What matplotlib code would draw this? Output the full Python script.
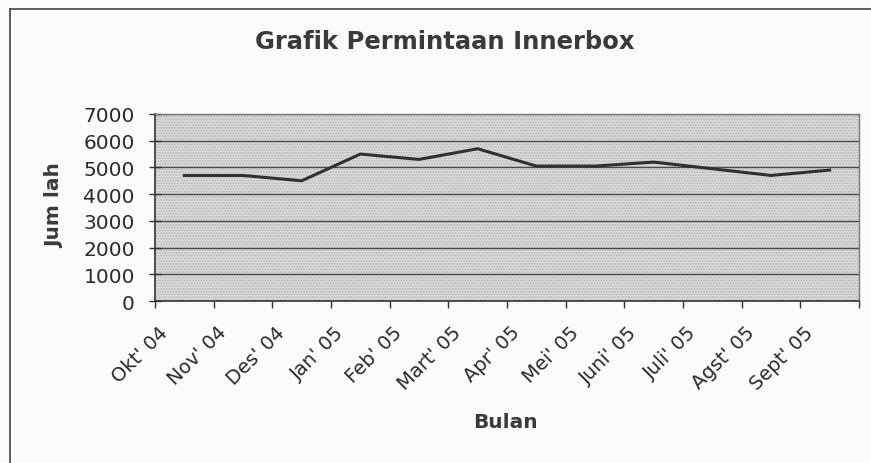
import matplotlib
matplotlib.use("Agg")
import matplotlib.pyplot as plt
from matplotlib.lines import Line2D
from matplotlib.patches import Rectangle
import matplotlib.transforms as mtransforms
import numpy as np

months = ["Okt' 04", "Nov' 04", "Des' 04", "Jan' 05", "Feb' 05", "Mart' 05",
          "Apr' 05", "Mei' 05", "Juni' 05", "Juli' 05", "Agst' 05", "Sept' 05"]
demand = [4700, 4700, 4500, 5500, 5300, 5700, 5050, 5050, 5200, 4950, 4700, 4900]
yticks = [0, 1000, 2000, 3000, 4000, 5000, 6000, 7000]

title = "Grafik Permintaan Innerbox"
xlabel = "Bulan"
ylabel = "Jum lah"

W, H = 871, 464
fig = plt.figure(figsize=(W / 100, H / 100), dpi=100)
fig.patch.set_facecolor("#fbfbfb")
txt = "#2b2b2b"

L, R, T, B = 155, 859, 115, 302
ax = fig.add_axes([L / W, 1 - B / H, (R - L) / W, (B - T) / H])
ax.set_facecolor("#dadada")
plt.rcParams['hatch.linewidth'] = 0.8
bg = Rectangle((0, 0), 1, 1, transform=ax.transAxes, facecolor="none",
               edgecolor="#b4b4b4", hatch="......", linewidth=0, zorder=0)
ax.add_patch(bg)

x = np.arange(len(months))
ax.set_xlim(-0.5, len(months) - 0.5)
ax.set_ylim(0, 7000)
for v in yticks[1:]:
    ax.axhline(v, color="#4a4a4a", linewidth=1.0, zorder=1)
ax.plot(x, demand, color="#303030", linewidth=2.2, zorder=3)

ax.set_yticks(yticks)
ax.set_yticklabels([str(v) for v in yticks], fontsize=14.5, color=txt, family="DejaVu Sans")
ax.tick_params(axis="y", direction="inout", length=8, width=1, color="#333333", pad=10.5)

ax.set_xticks(np.arange(-0.5, len(months), 1.0))
ax.set_xticklabels([])
ax.tick_params(axis="x", which="major", direction="out", length=5, width=1, color="#333333")
ax.set_xticks(x, minor=True)
ax.set_xticklabels(months, minor=True, rotation=45, ha="right", va="top",
                   rotation_mode="anchor", fontsize=14, color=txt, family="DejaVu Sans")
ax.tick_params(axis="x", which="minor", length=0, pad=6)
offset = mtransforms.ScaledTranslation(-26 / 100, -13 / 100, fig.dpi_scale_trans)
for lab in ax.get_xticklabels(minor=True):
    lab.set_transform(lab.get_transform() + offset)

for s in ["left", "bottom"]:
    ax.spines[s].set_color("#333333")
    ax.spines[s].set_linewidth(1.2)
for s in ["right", "top"]:
    ax.spines[s].set_color("#777777")
    ax.spines[s].set_linewidth(1.0)

fig.text(445 / W, 1 - 42 / H, title, ha="center", va="center", fontsize=17.5,
         fontweight="bold", color="#3a3a3a", family="DejaVu Sans")
fig.text(505 / W, 1 - 423 / H, xlabel, ha="center", va="center", fontsize=14.5,
         fontweight="bold", color="#3a3a3a", family="DejaVu Sans")
fig.text(55 / W, 1 - 206 / H, ylabel, ha="center", va="center", fontsize=14.5,
         fontweight="bold", color="#3a3a3a", family="DejaVu Sans", rotation=90)

fig.add_artist(Line2D([10 / W, 10 / W], [0, 1 - 10 / H], transform=fig.transFigure,
                      color="#444444", linewidth=1.2))
fig.add_artist(Line2D([10 / W, 1], [1 - 10 / H, 1 - 10 / H], transform=fig.transFigure,
                      color="#444444", linewidth=1.2))

fig.savefig("out.png", dpi=100, facecolor=fig.get_facecolor())
